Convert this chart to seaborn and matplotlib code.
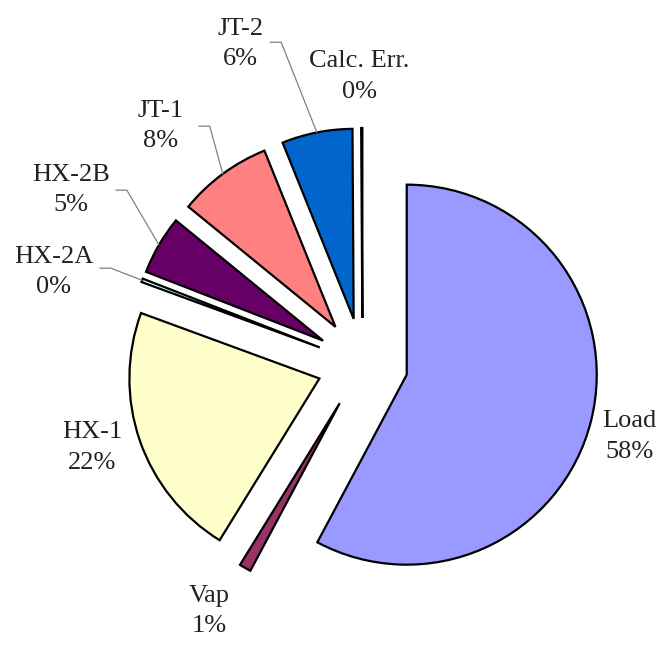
import numpy as np
import matplotlib
matplotlib.use("Agg")
import matplotlib.pyplot as plt
import seaborn as sns

# slices, clockwise from 12 o'clock
names = ["Load", "Vap", "HX-1", "HX-2A", "HX-2B", "JT-1", "JT-2", "Calc. Err."]
shares = [57.8, 1.0, 21.8, 0.3, 5.0, 8.0, 6.0, 0.1]
colors = ["#9999FF", "#993366", "#FFFFCC", "#CCFFFF",
          "#660066", "#FF8080", "#0066CC", "#CCCCFF"]

# label layout: radial distance (in radii from pie centre) and angle nudge (deg)
label_dist = [1.457, 1.532, 1.49, 1.694, 1.786, 1.64, 1.80, 1.51]
label_nudge = [-1.2, -1.9, -1.8, 4.2, -0.5, 4.0, 9.8, 0.5]
# which labels get a leader line, and where it leaves the text (pixels from text centre)
leader_from = {"HX-2A": (46, -4), "HX-2B": (45, 0), "JT-1": (38, 0), "JT-2": (30, -2)}

sns.set_theme(style="white")
plt.rcParams["font.family"] = ["Liberation Serif", "DejaVu Serif"]

W, H, dpi = 662, 645, 100
fig = plt.figure(figsize=(W / dpi, H / dpi), dpi=dpi)
ax = fig.add_axes([0, 0, 1, 1])

R = 190.0            # pie radius in pixels
cx, cy = 362.5, 363.6  # pie centre in pixels (from top-left)
expl = 0.24

wedges, _ = ax.pie(shares, colors=colors, startangle=90, counterclock=False,
                   explode=[expl] * len(shares), radius=1.0,
                   wedgeprops=dict(edgecolor="black", linewidth=1.6))
ax.set_xlim(-cx / R, (W - cx) / R)
ax.set_ylim(-(H - cy) / R, cy / R)
ax.set_aspect("equal")
ax.set_axis_off()

total = sum(shares)
px = 1.0 / R
for w, name, v, d, nud in zip(wedges, names, shares, label_dist, label_nudge):
    mid = np.deg2rad((w.theta1 + w.theta2) / 2)
    ang = mid + np.deg2rad(nud)
    lx, ly = d * np.cos(ang), d * np.sin(ang)
    ax.text(lx, ly, "{}\n{:.0f}%".format(name, v / total * 100),
            ha="center", va="center", fontsize=19, color="#222222",
            linespacing=1.5)
    if name in leader_from:
        ox, oy = leader_from[name]
        x0, y0 = lx + ox * px, ly - oy * px
        x1 = x0 + 11 * px
        ex = (expl + 1.0) * np.cos(mid)
        ey = (expl + 1.0) * np.sin(mid)
        ax.plot([x0, x1, ex], [y0, y0, ey], color="#808080", lw=0.9)

fig.savefig("out.png", dpi=dpi, facecolor="white")
